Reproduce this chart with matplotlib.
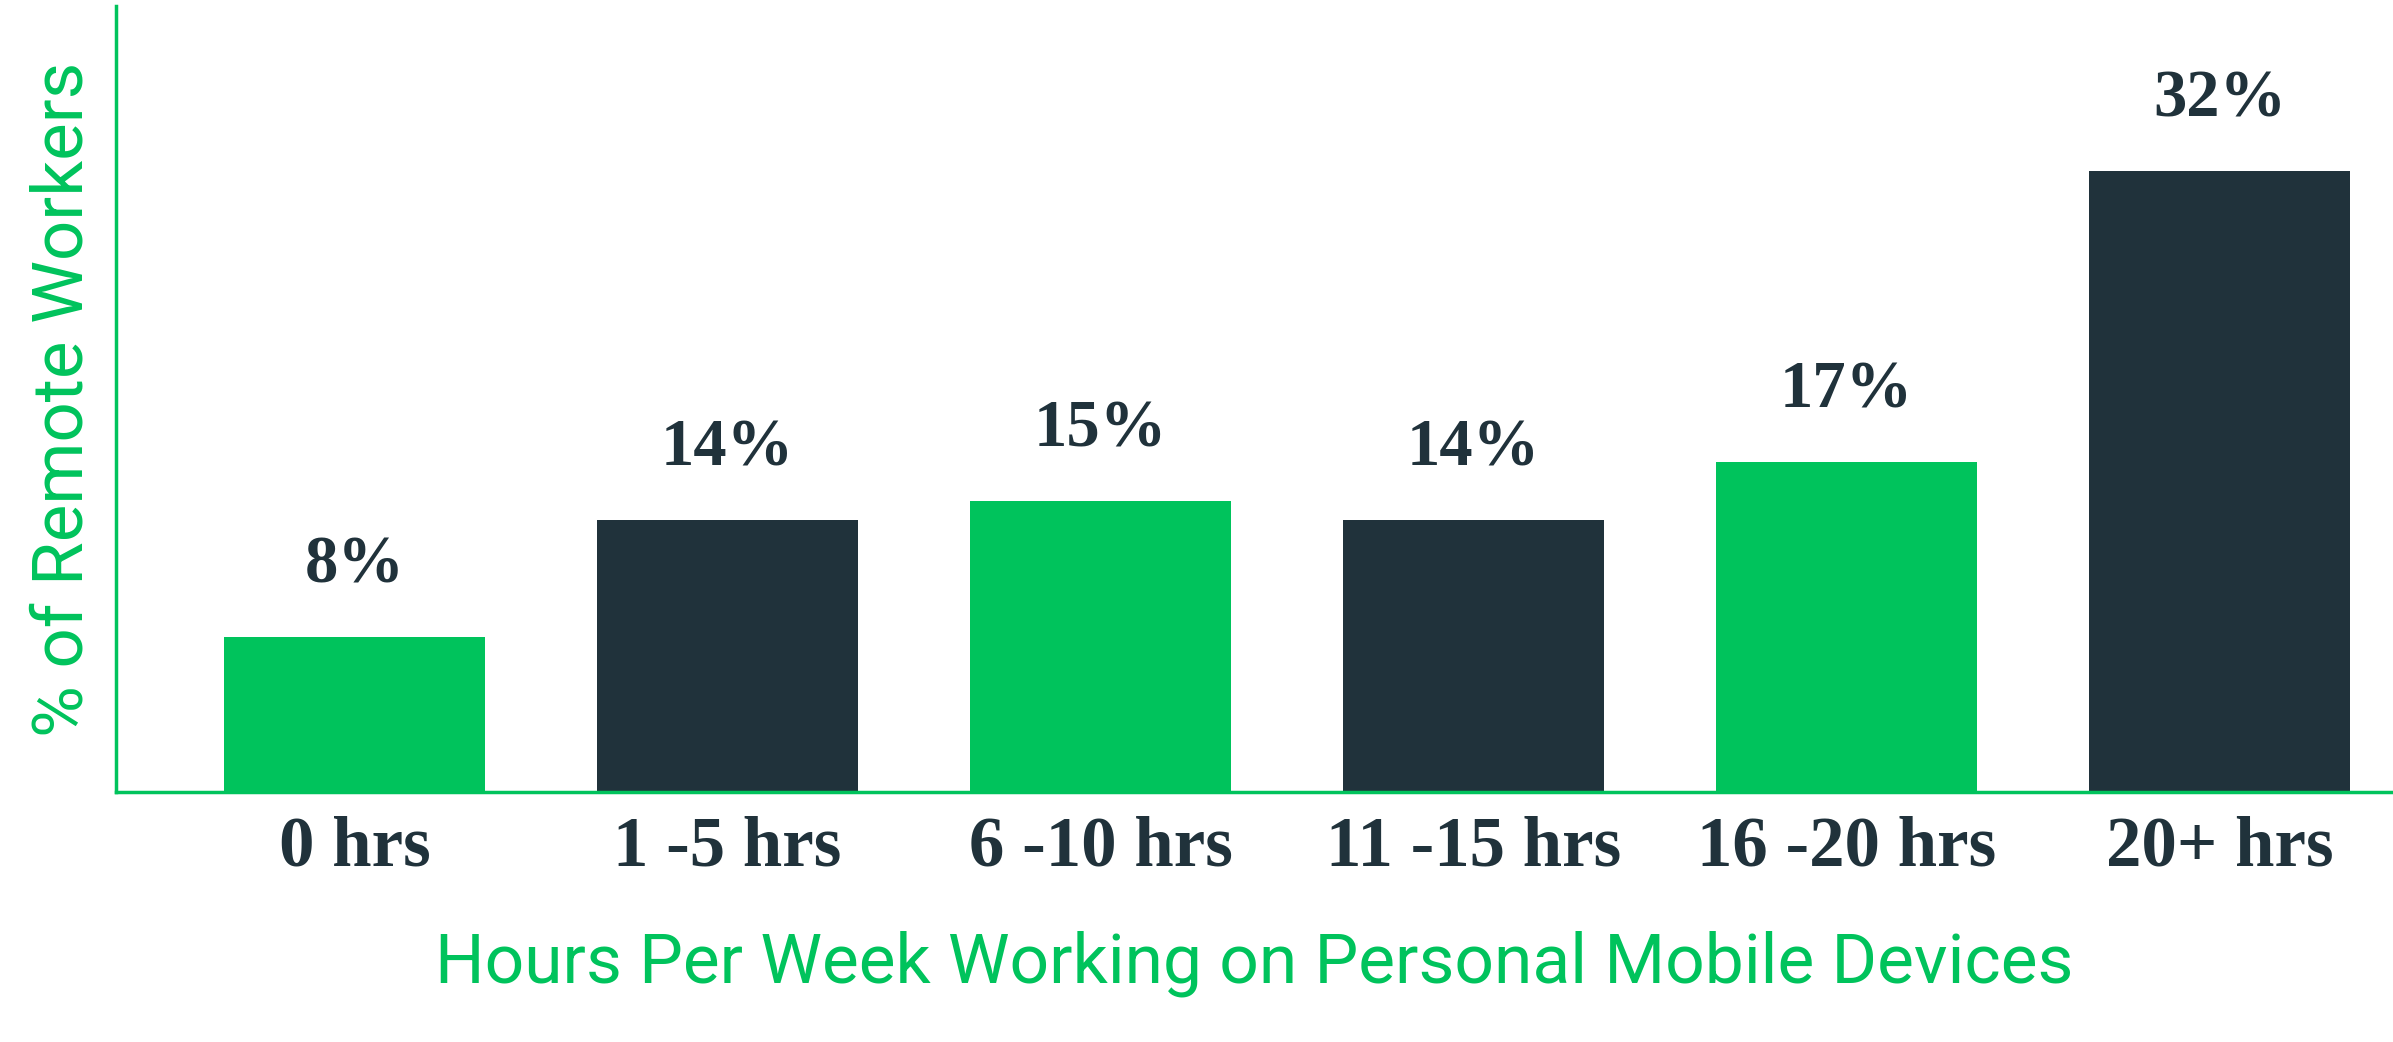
import matplotlib
matplotlib.use('Agg')
import matplotlib.pyplot as plt

categories = ['0 hrs', '1 -5 hrs', '6 -10 hrs', '11 -15 hrs', '16 -20 hrs', '20+ hrs']
values = [8, 14, 15, 14, 17, 32]
labels = ['8%', '14%', '15%', '14%', '17%', '32%']

green = '#00C35C'
dark = '#20323B'
colors = [green, dark, green, dark, green, dark]

fig = plt.figure(figsize=(23.93, 10.42), dpi=100)
ax = fig.add_axes([116 / 2393, 1 - 792 / 1042, 1 - 116 / 2393, (792 - 6) / 1042])

x = list(range(len(categories)))
ax.bar(x, values, width=0.7, color=colors)

for xi, v, lab in zip(x, values, labels):
    ax.text(xi, v + 2.8, lab, ha='center', va='baseline',
            fontsize=48, fontweight='bold', family='Liberation Serif', color=dark)

ax.set_xlim(-0.64, 5.465)
ax.set_ylim(0, 40.5)

ax.set_xticks(x)
ax.set_xticklabels(categories, fontsize=51, fontweight='bold', family='Liberation Serif', color=dark)
ax.tick_params(axis='x', length=0, pad=17)
ax.set_yticks([])

for side in ['top', 'right']:
    ax.spines[side].set_visible(False)
for side in ['left', 'bottom']:
    ax.spines[side].set_color(green)
    ax.spines[side].set_linewidth(2.5)

ax.set_xlabel('Hours Per Week Working on Personal Mobile Devices', fontsize=50,
              family='Roboto', color=green, labelpad=36)
ax.set_ylabel('% of Remote Workers', fontsize=51, family='Roboto', color=green, labelpad=14)

fig.savefig('out.png', dpi=100)
